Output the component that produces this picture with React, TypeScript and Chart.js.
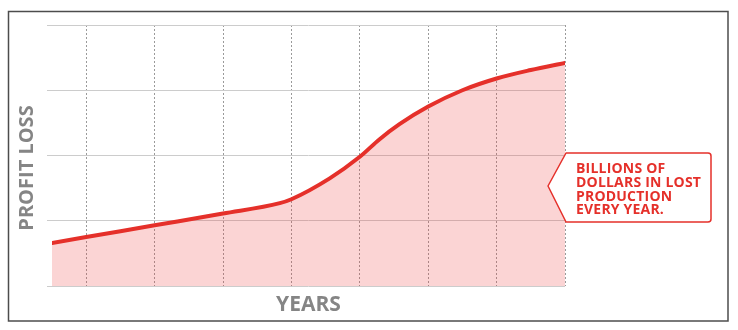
import React, { useEffect, useRef } from "react";
import { Chart, registerables } from "chart.js";

Chart.register(...registerables);

// Data (x in "year" units, y in grid units)
const yearPositions = [-0.5, 0, 1, 2, 2.83, 3, 3.56, 4, 4.29, 4.58, 5, 5.5, 6, 6.5, 7];
const profitLoss = [0.66, 0.75, 0.93, 1.11, 1.27, 1.33, 1.65, 1.98, 2.25, 2.48, 2.75, 3.0, 3.18, 3.31, 3.42];
const yearGridTicks = [0, 1, 2, 3, 4, 5, 6, 7];
const lossGridTicks = [0, 1, 2, 3, 4];
const xAxisTitle = "YEARS";
const yAxisTitle = "PROFIT LOSS";
const calloutLines = ["BILLIONS OF", "DOLLARS IN LOST", "PRODUCTION", "EVERY YEAR."];

const RED = "#e5302a";
const GREY_TEXT = "#858585";
const FONT = "'Open Sans'";

const decorPlugin = {
  id: "decor",
  afterDraw(chart: any) {
    const { ctx, chartArea } = chart;
    ctx.save();
    // outer frame
    ctx.strokeStyle = "#4d4d4d";
    ctx.lineWidth = 1.5;
    ctx.strokeRect(8.5, 11.5, 719.5, 309.5);

    // y axis title
    ctx.save();
    ctx.translate(27, 168);
    ctx.rotate(-Math.PI / 2);
    ctx.fillStyle = GREY_TEXT;
    ctx.font = "bold 20px " + FONT;
    ctx.textAlign = "center";
    ctx.textBaseline = "middle";
    ctx.fillText(yAxisTitle, 0, 0);
    ctx.restore();

    // callout box with arrow
    const bx = chartArea.right + 1;
    const top = 153;
    const bottom = 222;
    const right = 711;
    const tipX = 548;
    const tipY = 186;
    const r = 3;
    ctx.beginPath();
    ctx.moveTo(bx, top);
    ctx.lineTo(right - r, top);
    ctx.quadraticCurveTo(right, top, right, top + r);
    ctx.lineTo(right, bottom - r);
    ctx.quadraticCurveTo(right, bottom, right - r, bottom);
    ctx.lineTo(bx, bottom);
    ctx.lineTo(tipX, tipY);
    ctx.closePath();
    ctx.fillStyle = "#ffffff";
    ctx.fill();
    ctx.strokeStyle = RED;
    ctx.lineWidth = 1.5;
    ctx.lineJoin = "round";
    ctx.stroke();

    ctx.fillStyle = RED;
    ctx.font = "bold 14px " + FONT;
    (ctx as any).letterSpacing = "0.2px";
    ctx.textAlign = "left";
    ctx.textBaseline = "alphabetic";
    calloutLines.forEach((t, i) => {
      ctx.fillText(t, 576, 173 + i * 13.8);
    });
    (ctx as any).letterSpacing = "0px";
    ctx.restore();
  },
};

export default function App() {
  const ref = useRef<HTMLCanvasElement | null>(null);

  useEffect(() => {
    if (!ref.current) return;
    const chart = new Chart(ref.current, {
      type: "line",
      data: {
        datasets: [
          {
            data: yearPositions.map((x, i) => ({ x, y: profitLoss[i] })),
            borderColor: RED,
            borderWidth: 4,
            borderCapStyle: "round",
            backgroundColor: "rgba(235, 60, 60, 0.22)",
            fill: "origin",
            pointRadius: 0,
            cubicInterpolationMode: "monotone",
          },
        ],
      },
      options: {
        animation: false,
        responsive: false,
        maintainAspectRatio: false,
        layout: { padding: { left: 0, right: 173, top: 25, bottom: 0 } },
        plugins: {
          legend: { display: false },
          tooltip: { enabled: false },
        },
        scales: {
          x: {
            type: "linear",
            min: -0.5,
            max: 7,
            afterBuildTicks: (s: any) => {
              s.ticks = yearGridTicks.map((v) => ({ value: v }));
            },
            afterFit: (s: any) => {
              s.height = 44;
            },
            ticks: { display: false },
            grid: { color: "#9a9a9a", lineWidth: 1, drawTicks: false },
            border: { display: false, dash: [2, 2] },
            title: {
              display: true,
              text: xAxisTitle,
              color: GREY_TEXT,
              font: { family: FONT, size: 21, weight: "bold" },
              padding: { top: 0, bottom: 12 },
            },
          },
          y: {
            type: "linear",
            min: 0,
            max: 4,
            afterBuildTicks: (s: any) => {
              s.ticks = lossGridTicks.map((v) => ({ value: v }));
            },
            afterFit: (s: any) => {
              s.width = 52;
            },
            ticks: { display: false },
            grid: { color: "#cccccc", lineWidth: 1, drawTicks: true, tickLength: 5 },
            border: { display: false },
          },
        },
      },
      plugins: [decorPlugin],
    } as any);
    return () => chart.destroy();
  }, []);

  return (
    <div style={{ position: "absolute", left: 0, top: 0, width: 738, height: 330, background: "#fff" }}>
      <canvas ref={ref} width={738} height={330} style={{ display: "block", width: 738, height: 330 }} />
    </div>
  );
}
